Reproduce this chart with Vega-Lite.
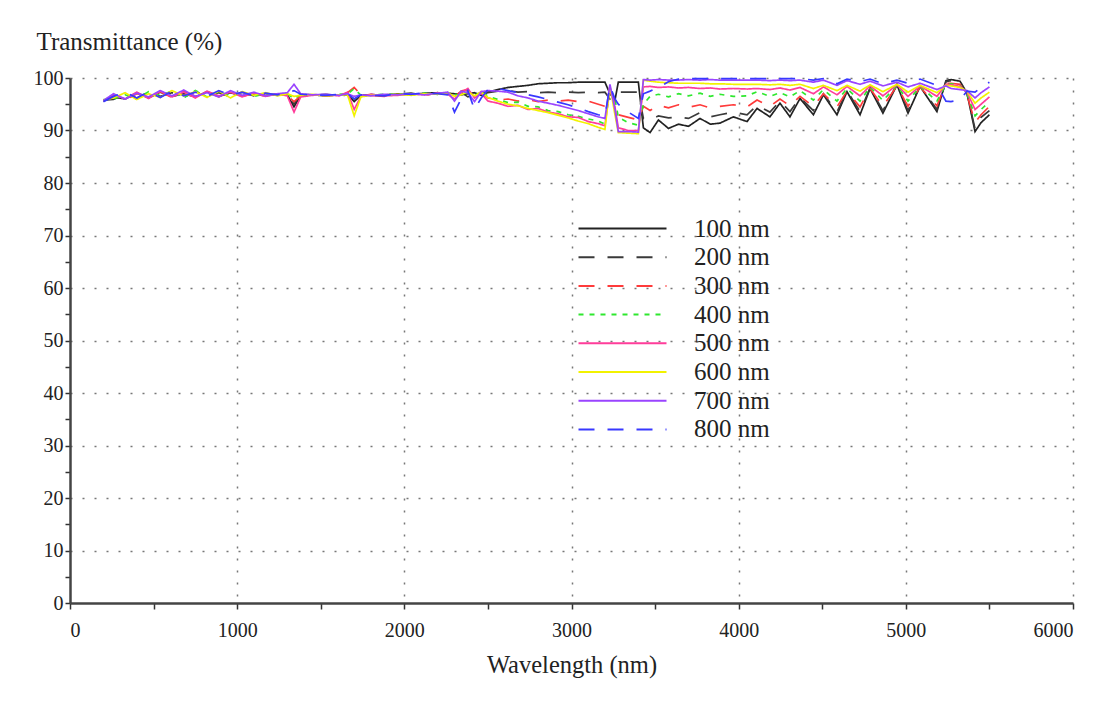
{
  "$schema": "https://vega.github.io/schema/vega-lite/v6.json",
  "width": 1003,
  "height": 525,
  "autosize": {"type": "none"},
  "padding": {"left": 70, "top": 78, "right": 42, "bottom": 101},
  "background": "white",
  "config": {"view": {"stroke": null}, "font": "Liberation Serif"},
  "data": {"values": [
    {"w":200,"100 nm":95.6,"200 nm":95.8,"300 nm":95.7,"400 nm":95.9,"500 nm":95.6,"600 nm":95.8,"700 nm":95.7,"800 nm":95.5},
    {"w":260,"100 nm":96.4,"200 nm":95.9,"300 nm":96.6,"400 nm":96.0,"500 nm":96.8,"600 nm":96.2,"700 nm":97.0,"800 nm":96.5},
    {"w":330,"100 nm":96.0,"200 nm":96.9,"300 nm":95.8,"400 nm":96.8,"500 nm":96.0,"600 nm":97.2,"700 nm":96.0,"800 nm":97.3},
    {"w":400,"100 nm":97.2,"200 nm":96.2,"300 nm":97.0,"400 nm":96.0,"500 nm":97.3,"600 nm":95.9,"700 nm":97.1,"800 nm":96.2},
    {"w":470,"100 nm":96.2,"200 nm":97.3,"300 nm":96.3,"400 nm":97.4,"500 nm":96.1,"600 nm":97.0,"700 nm":96.4,"800 nm":97.4},
    {"w":540,"100 nm":97.3,"200 nm":96.5,"300 nm":97.4,"400 nm":96.7,"500 nm":97.5,"600 nm":96.3,"700 nm":97.6,"800 nm":96.3},
    {"w":610,"100 nm":96.5,"200 nm":97.2,"300 nm":96.3,"400 nm":97.5,"500 nm":96.4,"600 nm":97.6,"700 nm":96.6,"800 nm":97.5},
    {"w":680,"100 nm":97.0,"200 nm":96.3,"300 nm":97.5,"400 nm":96.2,"500 nm":97.3,"600 nm":96.6,"700 nm":97.7,"800 nm":96.6},
    {"w":750,"100 nm":96.4,"200 nm":97.4,"300 nm":96.5,"400 nm":97.6,"500 nm":96.2,"600 nm":97.4,"700 nm":96.5,"800 nm":97.3},
    {"w":820,"100 nm":97.4,"200 nm":96.6,"300 nm":97.3,"400 nm":96.4,"500 nm":97.5,"600 nm":96.3,"700 nm":97.2,"800 nm":96.5},
    {"w":890,"100 nm":96.5,"200 nm":97.2,"300 nm":96.4,"400 nm":97.4,"500 nm":96.6,"600 nm":97.5,"700 nm":96.4,"800 nm":97.6},
    {"w":960,"100 nm":97.2,"200 nm":96.4,"300 nm":97.5,"400 nm":96.6,"500 nm":97.3,"600 nm":96.2,"700 nm":97.6,"800 nm":96.7},
    {"w":1030,"100 nm":96.6,"200 nm":97.3,"300 nm":96.5,"400 nm":97.2,"500 nm":96.4,"600 nm":97.4,"700 nm":96.7,"800 nm":97.3},
    {"w":1100,"100 nm":97.0,"200 nm":96.6,"300 nm":97.2,"400 nm":96.5,"500 nm":97.1,"600 nm":96.7,"700 nm":97.3,"800 nm":96.6},
    {"w":1170,"100 nm":96.6,"200 nm":97.1,"300 nm":96.7,"400 nm":97.0,"500 nm":96.5,"600 nm":97.2,"700 nm":96.6,"800 nm":97.1},
    {"w":1240,"100 nm":96.9,"200 nm":96.7,"300 nm":96.9,"400 nm":96.8,"500 nm":97.0,"600 nm":96.6,"700 nm":97.0,"800 nm":96.8},
    {"w":1300,"100 nm":96.8,"200 nm":96.9,"300 nm":96.7,"400 nm":97.0,"500 nm":96.6,"600 nm":97.0,"700 nm":97.2,"800 nm":97.1},
    {"w":1340,"100 nm":94.5,"200 nm":95.0,"300 nm":95.5,"400 nm":96.0,"500 nm":93.5,"600 nm":96.5,"700 nm":98.8,"800 nm":97.6},
    {"w":1380,"100 nm":96.7,"200 nm":96.8,"300 nm":96.6,"400 nm":96.9,"500 nm":96.4,"600 nm":96.7,"700 nm":97.0,"800 nm":96.9},
    {"w":1450,"100 nm":96.8,"200 nm":96.7,"300 nm":96.9,"400 nm":96.8,"500 nm":96.7,"600 nm":96.9,"700 nm":96.8,"800 nm":96.8},
    {"w":1530,"100 nm":96.6,"200 nm":96.9,"300 nm":96.6,"400 nm":96.7,"500 nm":96.8,"600 nm":96.6,"700 nm":96.9,"800 nm":96.7},
    {"w":1610,"100 nm":96.8,"200 nm":96.6,"300 nm":96.8,"400 nm":96.9,"500 nm":96.6,"600 nm":96.8,"700 nm":96.7,"800 nm":96.9},
    {"w":1660,"100 nm":96.9,"200 nm":96.8,"300 nm":97.2,"400 nm":96.9,"500 nm":97.3,"600 nm":96.8,"700 nm":97.0,"800 nm":97.0},
    {"w":1700,"100 nm":95.5,"200 nm":96.0,"300 nm":98.2,"400 nm":98.0,"500 nm":94.0,"600 nm":92.8,"700 nm":96.5,"800 nm":96.0},
    {"w":1740,"100 nm":96.7,"200 nm":96.6,"300 nm":96.8,"400 nm":96.7,"500 nm":96.5,"600 nm":96.4,"700 nm":96.8,"800 nm":96.8},
    {"w":1800,"100 nm":96.8,"200 nm":96.9,"300 nm":96.7,"400 nm":96.8,"500 nm":96.9,"600 nm":96.7,"700 nm":96.6,"800 nm":96.7},
    {"w":1880,"100 nm":96.7,"200 nm":96.6,"300 nm":96.5,"400 nm":96.9,"500 nm":96.6,"600 nm":96.8,"700 nm":96.9,"800 nm":96.6},
    {"w":1960,"100 nm":97.0,"200 nm":96.9,"300 nm":96.8,"400 nm":97.0,"500 nm":96.7,"600 nm":96.9,"700 nm":96.8,"800 nm":97.1},
    {"w":2040,"100 nm":96.8,"200 nm":97.1,"300 nm":97.0,"400 nm":96.8,"500 nm":97.0,"600 nm":96.7,"700 nm":97.0,"800 nm":96.9},
    {"w":2120,"100 nm":97.1,"200 nm":96.8,"300 nm":96.7,"400 nm":97.1,"500 nm":96.8,"600 nm":97.0,"700 nm":96.8,"800 nm":97.2},
    {"w":2200,"100 nm":97.2,"200 nm":97.0,"300 nm":97.1,"400 nm":96.9,"500 nm":97.1,"600 nm":96.9,"700 nm":97.1,"800 nm":97.0},
    {"w":2260,"100 nm":97.1,"200 nm":97.1,"300 nm":96.8,"400 nm":97.2,"500 nm":96.9,"600 nm":97.2,"700 nm":97.3,"800 nm":96.8},
    {"w":2300,"100 nm":97.0,"200 nm":96.6,"300 nm":96.4,"400 nm":96.9,"500 nm":96.0,"600 nm":96.5,"700 nm":95.6,"800 nm":93.5},
    {"w":2340,"100 nm":96.8,"200 nm":97.3,"300 nm":97.5,"400 nm":96.6,"500 nm":97.2,"600 nm":96.8,"700 nm":97.5,"800 nm":96.0},
    {"w":2380,"100 nm":97.0,"200 nm":96.4,"300 nm":97.8,"400 nm":97.4,"500 nm":98.0,"600 nm":97.4,"700 nm":97.2,"800 nm":97.6},
    {"w":2420,"100 nm":97.2,"200 nm":96.8,"300 nm":96.5,"400 nm":96.6,"500 nm":96.2,"600 nm":96.6,"700 nm":95.5,"800 nm":94.0},
    {"w":2460,"100 nm":96.7,"200 nm":97.3,"300 nm":97.4,"400 nm":97.5,"500 nm":97.1,"600 nm":97.3,"700 nm":97.4,"800 nm":96.2},
    {"w":2500,"100 nm":97.3,"200 nm":97.2,"300 nm":96.2,"400 nm":96.5,"500 nm":95.6,"600 nm":96.3,"700 nm":97.6,"800 nm":97.8},
    {"w":2560,"100 nm":97.8,"200 nm":97.5,"300 nm":95.8,"400 nm":95.9,"500 nm":95.2,"600 nm":95.6,"700 nm":97.5,"800 nm":98.0},
    {"w":2620,"100 nm":98.2,"200 nm":97.6,"300 nm":96.0,"400 nm":95.3,"500 nm":94.6,"600 nm":95.0,"700 nm":97.3,"800 nm":97.6},
    {"w":2680,"100 nm":98.4,"200 nm":97.3,"300 nm":95.6,"400 nm":95.4,"500 nm":94.8,"600 nm":94.7,"700 nm":96.6,"800 nm":97.2},
    {"w":2740,"100 nm":98.6,"200 nm":97.4,"300 nm":95.9,"400 nm":94.6,"500 nm":94.0,"600 nm":94.2,"700 nm":96.2,"800 nm":96.8},
    {"w":2800,"100 nm":98.9,"200 nm":97.2,"300 nm":95.5,"400 nm":94.5,"500 nm":94.2,"600 nm":93.8,"700 nm":95.6,"800 nm":96.4},
    {"w":2860,"100 nm":99.0,"200 nm":97.3,"300 nm":95.8,"400 nm":93.8,"500 nm":93.5,"600 nm":93.4,"700 nm":95.2,"800 nm":95.9},
    {"w":2920,"100 nm":99.1,"200 nm":97.2,"300 nm":95.6,"400 nm":93.6,"500 nm":93.2,"600 nm":92.9,"700 nm":94.8,"800 nm":95.4},
    {"w":2980,"100 nm":99.1,"200 nm":97.3,"300 nm":95.8,"400 nm":93.0,"500 nm":92.6,"600 nm":92.4,"700 nm":94.3,"800 nm":94.9},
    {"w":3040,"100 nm":99.2,"200 nm":97.2,"300 nm":95.5,"400 nm":92.7,"500 nm":92.5,"600 nm":91.8,"700 nm":93.8,"800 nm":94.3},
    {"w":3100,"100 nm":99.2,"200 nm":97.3,"300 nm":95.6,"400 nm":92.2,"500 nm":91.7,"600 nm":91.3,"700 nm":93.2,"800 nm":93.6},
    {"w":3160,"100 nm":99.2,"200 nm":97.2,"300 nm":95.0,"400 nm":91.8,"500 nm":91.3,"600 nm":90.6,"700 nm":92.6,"800 nm":93.0},
    {"w":3200,"100 nm":99.2,"200 nm":97.3,"300 nm":94.6,"400 nm":91.2,"500 nm":90.9,"600 nm":90.2,"700 nm":92.3,"800 nm":92.7},
    {"w":3230,"100 nm":97.0,"200 nm":96.0,"300 nm":97.5,"400 nm":98.0,"500 nm":98.3,"600 nm":98.5,"700 nm":98.8,"800 nm":98.5},
    {"w":3260,"100 nm":95.8,"200 nm":97.0,"300 nm":95.5,"400 nm":96.0,"500 nm":94.5,"600 nm":93.0,"700 nm":94.0,"800 nm":96.0},
    {"w":3280,"100 nm":99.2,"200 nm":97.3,"300 nm":93.0,"400 nm":92.5,"500 nm":90.5,"600 nm":89.6,"700 nm":89.8,"800 nm":95.0},
    {"w":3340,"100 nm":99.2,"200 nm":97.3,"300 nm":92.5,"400 nm":91.5,"500 nm":90.0,"600 nm":89.5,"700 nm":89.8,"800 nm":93.5},
    {"w":3400,"100 nm":99.2,"200 nm":97.3,"300 nm":92.0,"400 nm":91.0,"500 nm":90.0,"600 nm":89.4,"700 nm":89.7,"800 nm":92.3},
    {"w":3430,"100 nm":90.5,"200 nm":92.3,"300 nm":94.6,"400 nm":95.0,"500 nm":98.3,"600 nm":99.6,"700 nm":99.7,"800 nm":97.0},
    {"w":3470,"100 nm":89.6,"200 nm":92.0,"300 nm":93.8,"400 nm":96.5,"500 nm":98.4,"600 nm":99.4,"700 nm":99.6,"800 nm":97.5},
    {"w":3520,"100 nm":92.0,"200 nm":92.8,"300 nm":94.8,"400 nm":96.9,"500 nm":98.2,"600 nm":99.2,"700 nm":99.7,"800 nm":98.2},
    {"w":3580,"100 nm":90.4,"200 nm":92.4,"300 nm":94.3,"400 nm":96.4,"500 nm":98.3,"600 nm":99.1,"700 nm":99.6,"800 nm":99.3},
    {"w":3640,"100 nm":91.2,"200 nm":92.6,"300 nm":94.9,"400 nm":97.0,"500 nm":98.1,"600 nm":99.0,"700 nm":99.6,"800 nm":99.8},
    {"w":3700,"100 nm":90.8,"200 nm":92.3,"300 nm":94.4,"400 nm":96.6,"500 nm":98.2,"600 nm":99.0,"700 nm":99.7,"800 nm":99.9},
    {"w":3769,"100 nm":92.3,"200 nm":93.4,"300 nm":94.9,"400 nm":97.1,"500 nm":98.0,"600 nm":99.0,"700 nm":99.6,"800 nm":99.9},
    {"w":3830,"100 nm":91.2,"200 nm":92.6,"300 nm":94.3,"400 nm":96.5,"500 nm":98.1,"600 nm":98.9,"700 nm":99.7,"800 nm":99.9},
    {"w":3888,"100 nm":91.4,"200 nm":93.0,"300 nm":94.6,"400 nm":96.9,"500 nm":97.9,"600 nm":98.9,"700 nm":99.6,"800 nm":99.9},
    {"w":3968,"100 nm":92.6,"200 nm":93.5,"300 nm":94.9,"400 nm":96.5,"500 nm":98.0,"600 nm":98.8,"700 nm":99.6,"800 nm":99.9},
    {"w":4050,"100 nm":91.7,"200 nm":93.0,"300 nm":94.5,"400 nm":96.6,"500 nm":97.9,"600 nm":98.8,"700 nm":99.6,"800 nm":99.9},
    {"w":4110,"100 nm":94.2,"200 nm":94.8,"300 nm":95.8,"400 nm":97.4,"500 nm":98.0,"600 nm":98.8,"700 nm":99.6,"800 nm":99.9},
    {"w":4187,"100 nm":92.6,"200 nm":93.5,"300 nm":94.6,"400 nm":96.5,"500 nm":97.8,"600 nm":98.7,"700 nm":99.5,"800 nm":99.9},
    {"w":4247,"100 nm":95.2,"200 nm":95.6,"300 nm":96.0,"400 nm":97.2,"500 nm":98.1,"600 nm":98.8,"700 nm":99.6,"800 nm":99.9},
    {"w":4307,"100 nm":92.6,"200 nm":93.6,"300 nm":94.7,"400 nm":96.4,"500 nm":97.7,"600 nm":98.6,"700 nm":99.5,"800 nm":99.9},
    {"w":4367,"100 nm":96.1,"200 nm":96.3,"300 nm":96.5,"400 nm":97.6,"500 nm":98.2,"600 nm":98.8,"700 nm":99.6,"800 nm":99.9},
    {"w":4447,"100 nm":93.0,"200 nm":93.8,"300 nm":94.6,"400 nm":95.8,"500 nm":97.0,"600 nm":98.0,"700 nm":99.2,"800 nm":99.6},
    {"w":4507,"100 nm":96.8,"200 nm":97.0,"300 nm":97.0,"400 nm":97.8,"500 nm":98.3,"600 nm":98.6,"700 nm":99.6,"800 nm":99.9},
    {"w":4588,"100 nm":93.0,"200 nm":93.5,"300 nm":94.5,"400 nm":95.6,"500 nm":96.8,"600 nm":97.6,"700 nm":98.6,"800 nm":98.9},
    {"w":4648,"100 nm":97.4,"200 nm":97.6,"300 nm":97.5,"400 nm":98.0,"500 nm":98.4,"600 nm":98.6,"700 nm":99.5,"800 nm":99.8},
    {"w":4726,"100 nm":93.0,"200 nm":93.6,"300 nm":94.5,"400 nm":95.6,"500 nm":96.6,"600 nm":97.5,"700 nm":98.8,"800 nm":99.3},
    {"w":4786,"100 nm":98.0,"200 nm":98.1,"300 nm":98.0,"400 nm":98.3,"500 nm":98.5,"600 nm":98.7,"700 nm":99.4,"800 nm":99.8},
    {"w":4863,"100 nm":93.3,"200 nm":93.8,"300 nm":94.6,"400 nm":95.7,"500 nm":96.6,"600 nm":97.4,"700 nm":98.5,"800 nm":98.9},
    {"w":4947,"100 nm":98.7,"200 nm":98.8,"300 nm":98.5,"400 nm":98.6,"500 nm":98.7,"600 nm":98.8,"700 nm":99.2,"800 nm":99.6},
    {"w":5013,"100 nm":93.3,"200 nm":93.8,"300 nm":94.6,"400 nm":95.6,"500 nm":96.5,"600 nm":97.3,"700 nm":98.3,"800 nm":99.0},
    {"w":5085,"100 nm":98.4,"200 nm":98.5,"300 nm":98.3,"400 nm":98.4,"500 nm":98.5,"600 nm":98.6,"700 nm":99.0,"800 nm":99.8},
    {"w":5186,"100 nm":93.6,"200 nm":94.0,"300 nm":94.7,"400 nm":95.6,"500 nm":96.5,"600 nm":97.2,"700 nm":97.8,"800 nm":98.6},
    {"w":5240,"100 nm":99.5,"200 nm":99.3,"300 nm":99.0,"400 nm":98.8,"500 nm":98.8,"600 nm":98.6,"700 nm":98.5,"800 nm":95.6},
    {"w":5270,"100 nm":99.7,"200 nm":99.5,"300 nm":99.0,"400 nm":98.9,"500 nm":98.7,"600 nm":98.5,"700 nm":98.0,"800 nm":95.5},
    {"w":5324,"100 nm":99.4,"200 nm":99.2,"300 nm":98.8,"400 nm":98.5,"500 nm":98.4,"600 nm":98.2,"700 nm":97.8,"800 nm":95.8},
    {"w":5366,"100 nm":97.1,"200 nm":97.0,"300 nm":96.8,"400 nm":97.0,"500 nm":97.3,"600 nm":97.5,"700 nm":97.6,"800 nm":97.5},
    {"w":5414,"100 nm":89.8,"200 nm":90.3,"300 nm":91.5,"400 nm":92.8,"500 nm":94.0,"600 nm":95.2,"700 nm":96.2,"800 nm":97.3},
    {"w":5450,"100 nm":91.5,"200 nm":92.5,"300 nm":93.0,"400 nm":94.0,"500 nm":95.0,"600 nm":96.2,"700 nm":97.2,"800 nm":98.2},
    {"w":5500,"100 nm":93.0,"200 nm":93.8,"300 nm":94.6,"400 nm":95.5,"500 nm":96.4,"600 nm":97.3,"700 nm":98.3,"800 nm":99.2}
  ]},
  "transform": [{"fold": ["100 nm","200 nm","300 nm","400 nm","500 nm","600 nm","700 nm","800 nm"], "as": ["series","t"]}],
  "mark": {"type": "line", "strokeWidth": 1.7},
  "encoding": {
    "x": {
      "field": "w", "type": "quantitative",
      "scale": {"domain": [0, 6000], "nice": false},
      "axis": {
        "title": "Wavelength (nm)",
        "titleFont": "Liberation Serif", "titleFontSize": 24.5, "titleFontWeight": "normal", "titleColor": "#222", "titlePadding": 13,
        "values": [0,500,1000,1500,2000,2500,3000,3500,4000,4500,5000,5500,6000],
        "labelExpr": "datum.value % 1000 === 0 ? datum.label : ''",
        "format": "d",
        "labelFont": "Liberation Serif", "labelFontSize": 20, "labelColor": "#222", "labelPadding": 11,
        "tickSize": 6, "tickColor": "#333", "tickWidth": 1.5,
        "domainColor": "#444", "domainWidth": 2.5,
        "grid": true, "gridColor": "#777", "gridDash": [2, 10], "gridWidth": 1.5,
        "gridOpacity": {"condition": {"test": "datum.value % 1000 !== 0 || datum.value === 0", "value": 0}, "value": 1}
      }
    },
    "y": {
      "field": "t", "type": "quantitative",
      "scale": {"domain": [0, 100], "nice": false},
      "axis": {
        "title": "Transmittance (%)",
        "titleFont": "Liberation Serif", "titleFontSize": 25, "titleFontWeight": "normal", "titleColor": "#222",
        "titleAngle": 0, "titleAlign": "left", "titleBaseline": "alphabetic", "titleX": -34, "titleY": -29,
        "values": [0,5,10,15,20,25,30,35,40,45,50,55,60,65,70,75,80,85,90,95,100],
        "labelExpr": "datum.value % 10 === 0 ? datum.label : ''",
        "labelFont": "Liberation Serif", "labelFontSize": 20, "labelColor": "#222", "labelPadding": 2,
        "tickSize": 5, "tickColor": "#333", "tickWidth": 1.5,
        "domainColor": "#444", "domainWidth": 2.5,
        "grid": true, "gridColor": "#777", "gridDash": [2, 10], "gridWidth": 1.5,
        "gridOpacity": {"condition": {"test": "datum.value % 10 !== 0 || datum.value === 0", "value": 0}, "value": 1}
      }
    },
    "color": {
      "field": "series", "type": "nominal",
      "scale": {"domain": ["100 nm","200 nm","300 nm","400 nm","500 nm","600 nm","700 nm","800 nm"],
                "range": ["#222222","#3a3a3a","#ff3b3b","#2ee82e","#ff3d9a","#f2f200","#9a44ff","#3838ff"]},
      "legend": {
        "orient": "none", "legendX": 540, "legendY": 138, "title": null,
        "symbolType": "M-4,0H4", "symbolSize": 484, "symbolStrokeWidth": 2,
        "labelFont": "Liberation Serif", "labelFontSize": 25, "labelColor": "#222", "labelOffset": 59, "rowPadding": 2.7
      }
    },
    "strokeDash": {
      "field": "series", "type": "nominal",
      "scale": {"domain": ["100 nm","200 nm","300 nm","400 nm","500 nm","600 nm","700 nm","800 nm"],
                "range": [[1,0],[16,13],[16,13],[5,6],[1,0],[1,0],[1,0],[16,13]]},
      "legend": {
        "orient": "none", "legendX": 540, "legendY": 138, "title": null,
        "symbolType": "M-4,0H4", "symbolSize": 484, "symbolStrokeWidth": 2,
        "labelFont": "Liberation Serif", "labelFontSize": 25, "labelColor": "#222", "labelOffset": 59, "rowPadding": 2.7
      }
    }
  }
}
